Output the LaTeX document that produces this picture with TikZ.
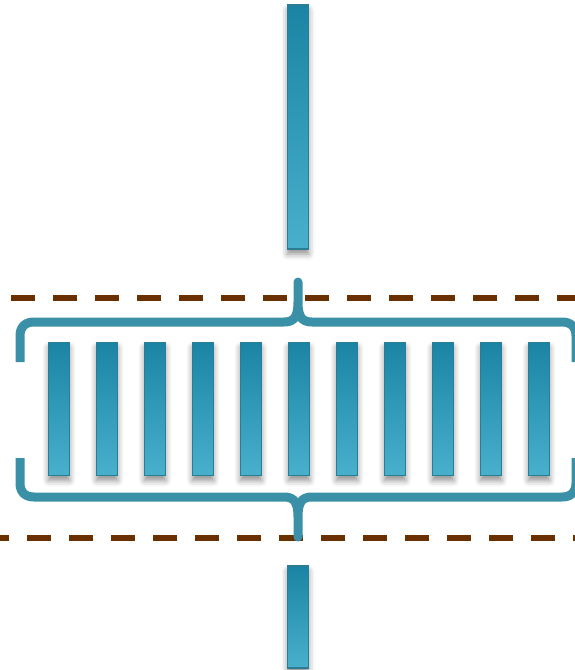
\documentclass[tikz,border=0pt]{standalone}
\usetikzlibrary{shadows.blur}
\definecolor{barTop}{HTML}{1B84A4}
\definecolor{barBot}{HTML}{48B0CD}
\definecolor{barEdge}{HTML}{2A7D94}
\definecolor{braceCol}{HTML}{3A90A6}
\definecolor{dashCol}{HTML}{6B3000}
\tikzset{
  bar/.style={rectangle, draw=barEdge, line width=1.2pt, top color=barTop, bottom color=barBot,
    minimum width=21pt, inner sep=0pt,
    blur shadow={shadow xshift=0pt, shadow yshift=-5pt, shadow blur radius=6pt, shadow opacity=45}},
  dashline/.style={draw=dashCol, line width=6pt, dash pattern=on 24pt off 18pt},
  brace/.style={draw=braceCol, line width=9pt, line join=round}
}
\begin{document}
\begin{tikzpicture}[x=1pt,y=-1pt]
\useasboundingbox (0,0) rectangle (575,670);
% dashed lines
\coordinate (d1a) at (11,298); \coordinate (d1b) at (580,298);
\coordinate (d2a) at (-15,538); \coordinate (d2b) at (580,538);
\draw[dashline] (d1a) -- (d1b);
\draw[dashline] (d2a) -- (d2b);
% braces
\draw[brace] (20,362) -- (20,336) .. controls (20,327) and (25,322) .. (34,322) -- (284,322)
  .. controls (294,322) and (298,317) .. (298,302) -- (298,282) -- (298,302)
  .. controls (298,317) and (302,322) .. (312,322) -- (562,322)
  .. controls (571,322) and (576,327) .. (576,336) -- (576,362);
\draw[brace] (20,458) -- (20,483) .. controls (20,492) and (25,497) .. (34,497) -- (284,497)
  .. controls (294,497) and (298,502) .. (298,517) -- (298,537) -- (298,517)
  .. controls (298,502) and (302,497) .. (312,497) -- (562,497)
  .. controls (571,497) and (576,492) .. (576,483) -- (576,458);
% bars
\node[bar, minimum height=244pt] (top) at (298,127) {};
\foreach \i in {0,...,10} {
  \node[bar, minimum height=133pt] (b\i) at ({59+48*\i},409) {};
}
\node[bar, minimum height=102pt] (bot) at (298,617) {};
\end{tikzpicture}
\end{document}
